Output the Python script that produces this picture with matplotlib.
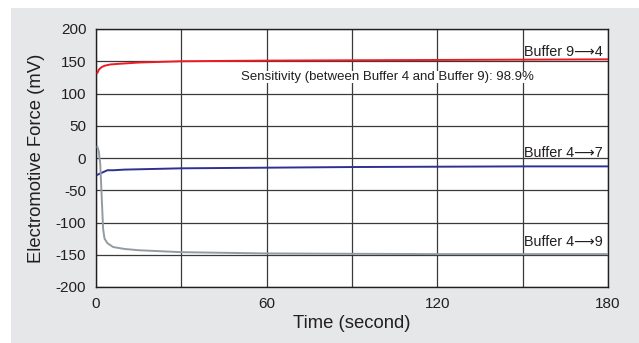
import numpy as np
import matplotlib.pyplot as plt
from matplotlib.patches import Rectangle

# readings (time in s, emf in mV)
t_red = [0.5, 1, 2, 3, 5, 8, 15, 30, 60, 90, 120, 150, 180]
emf_red = [132, 137, 141, 143, 145, 146, 148, 150, 151, 151.5, 152, 152.5, 153]

t_blue = [0.5, 1, 2, 3, 4, 6, 10, 20, 30, 60, 90, 120, 150, 180]
emf_blue = [-26, -25, -23, -21, -19, -19, -18, -17, -16, -15, -14, -13.5, -13, -13]

t_gray = [0.5, 1, 1.5, 2, 2.5, 3, 4, 6, 10, 15, 30, 60, 90, 120, 150, 180]
emf_gray = [17, 10, -10, -60, -110, -125, -132, -138, -141, -143, -146, -148, -148.5, -149, -149, -149]

labels = ['Buffer 9\u27f64', 'Buffer 4\u27f67', 'Buffer 4\u27f69']
label_y = [165, 8, -131]
note = 'Sensitivity (between Buffer 4 and Buffer 9): 98.9%'

plt.rcParams['font.family'] = ['Liberation Sans', 'DejaVu Sans']
plt.rcParams['axes.unicode_minus'] = False

fig = plt.figure(figsize=[6.39, 3.43], dpi=100)
fig.patches.append(Rectangle((11 / 639, 0), 1, 1 - 8 / 343, transform=fig.transFigure,
                             facecolor='#e6e7e8', edgecolor='none', zorder=-1))
ax = fig.add_axes([96 / 639, 1 - 287 / 343, 512 / 639, 258 / 343])
ax.set_facecolor('white')

ax.plot(t_red, emf_red, color='#ed1c24', lw=1.4, zorder=3)
ax.plot(t_blue, emf_blue, color='#2e3192', lw=1.4, zorder=3)
ax.plot(t_gray, emf_gray, color='#939ba2', lw=1.4, zorder=3)

for txt, y in zip(labels, label_y):
    ax.text(150.3, y, txt, fontsize=10.4, color='#231f20', ha='left', va='center', zorder=4)
ax.text(51, 125, note, fontsize=9.5, color='#231f20', ha='left', va='center', zorder=4,
        bbox=dict(facecolor='white', edgecolor='none', pad=0))

ax.set_xlim(0, 180)
ax.set_ylim(-200, 200)
ax.set_xticks(np.arange(0, 181, 30))
ax.set_xticklabels(['0', '', '60', '', '120', '', '180'])
ax.set_yticks(np.arange(-200, 201, 50))
ax.grid(True, color='#3a3a3a', lw=0.9)
ax.tick_params(length=0, labelsize=11, colors='#231f20', pad=7)
for s in ax.spines.values():
    s.set_color('#231f20')
    s.set_linewidth(1)

ax.set_xlabel('Time (second)', fontsize=13.3, color='#231f20', labelpad=3)
ax.set_ylabel('Electromotive Force (mV)', fontsize=13.3, color='#231f20', labelpad=8)

plt.savefig('out.png', dpi=100)
